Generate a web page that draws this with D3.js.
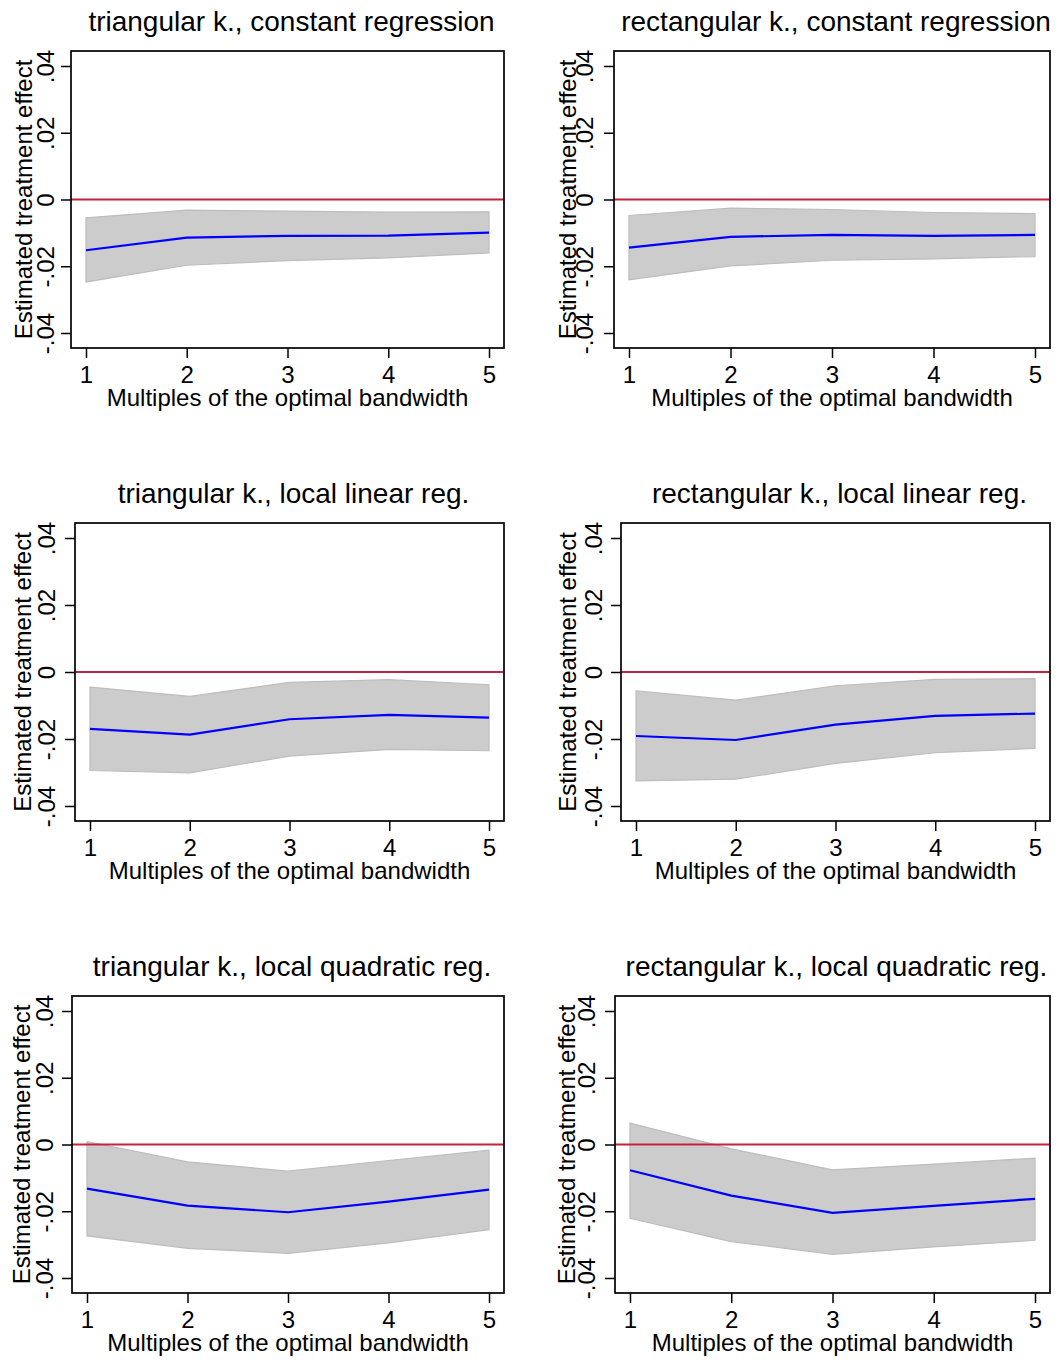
<!DOCTYPE html>
<html>
<head>
<meta charset="utf-8">
<script src="https://cdn.jsdelivr.net/npm/d3@7"></script>
<style>
  html, body { margin: 0; padding: 0; background: #ffffff; }
  svg { display: block; }
  text { font-family: "Liberation Sans", Arial, sans-serif; fill: #000; }
</style>
</head>
<body>
<svg id="chart" width="1059" height="1360"></svg>
<script>
// ---------------- data ----------------
const bandwidths = [1, 2, 3, 4, 5];
const xTickLabels = ["1", "2", "3", "4", "5"];
const yTicks = [-0.04, -0.02, 0, 0.02, 0.04];
const yTickLabels = ["-.04", "-.02", "0", ".02", ".04"];

const panelTitles = [
  "triangular k., constant regression",
  "rectangular k., constant regression",
  "triangular k., local linear reg.",
  "rectangular k., local linear reg.",
  "triangular k., local quadratic reg.",
  "rectangular k., local quadratic reg."
];
const xAxisTitle = "Multiples of the optimal bandwidth";
const yAxisTitle = "Estimated treatment effect";

// triangular kernel, constant regression
const estTriConst   = [-0.0152, -0.0114, -0.0109, -0.0108, -0.0099];
const upperTriConst = [-0.0055, -0.0032, -0.0035, -0.0038, -0.0037];
const lowerTriConst = [-0.0247, -0.0197, -0.0183, -0.0175, -0.0160];
// rectangular kernel, constant regression
const estRectConst   = [-0.0144, -0.0112, -0.0106, -0.0109, -0.0106];
const upperRectConst = [-0.0048, -0.0026, -0.0030, -0.0039, -0.0042];
const lowerRectConst = [-0.0241, -0.0199, -0.0182, -0.0178, -0.0171];
// triangular kernel, local linear
const estTriLin   = [-0.0170, -0.0187, -0.0141, -0.0128, -0.0136];
const upperTriLin = [-0.0045, -0.0073, -0.0031, -0.0023, -0.0038];
const lowerTriLin = [-0.0294, -0.0301, -0.0251, -0.0231, -0.0235];
// rectangular kernel, local linear
const estRectLin   = [-0.0191, -0.0203, -0.0157, -0.0131, -0.0124];
const upperRectLin = [-0.0056, -0.0084, -0.0041, -0.0022, -0.0020];
const lowerRectLin = [-0.0325, -0.0320, -0.0273, -0.0241, -0.0228];
// triangular kernel, local quadratic
const estTriQuad   = [-0.0132, -0.0183, -0.0203, -0.0171, -0.0135];
const upperTriQuad = [ 0.0009, -0.0052, -0.0080, -0.0048, -0.0017];
const lowerTriQuad = [-0.0274, -0.0311, -0.0326, -0.0295, -0.0255];
// rectangular kernel, local quadratic
const estRectQuad   = [-0.0077, -0.0153, -0.0205, -0.0184, -0.0163];
const upperRectQuad = [ 0.0064, -0.0013, -0.0076, -0.0059, -0.0041];
const lowerRectQuad = [-0.0221, -0.0291, -0.0329, -0.0307, -0.0287];

const panelSeries = [
  [estTriConst, upperTriConst, lowerTriConst],
  [estRectConst, upperRectConst, lowerRectConst],
  [estTriLin, upperTriLin, lowerTriLin],
  [estRectLin, upperRectLin, lowerRectLin],
  [estTriQuad, upperTriQuad, lowerTriQuad],
  [estRectQuad, upperRectQuad, lowerRectQuad]
];

// ---------------- layout ----------------
// plot box edges and y-label baselines for each panel
const layouts = [
  { L: 71,  R: 504,  T: 51,  B: 348,  tickX: 54,  titleX: 32 },
  { L: 614, R: 1050, T: 51,  B: 348,  tickX: 593, titleX: 576 },
  { L: 75,  R: 504,  T: 523, B: 821,  tickX: 55,  titleX: 31 },
  { L: 621, R: 1050, T: 523, B: 821,  tickX: 602, titleX: 576 },
  { L: 72,  R: 504,  T: 996, B: 1293, tickX: 53,  titleX: 30 },
  { L: 615, R: 1050, T: 996, B: 1293, tickX: 595, titleX: 575 }
];
const inset = 15;
const labelFont = "24px";
const titleFont = "28px";

const svg = d3.select("#chart");

panelSeries.forEach((series, i) => {
  const lay = layouts[i];
  const [est, upper, lower] = series;
  const x = d3.scaleLinear().domain([1, 5]).range([lay.L + inset, lay.R - inset]);
  const y = d3.scaleLinear().domain([-0.04, 0.04]).range([lay.B - inset, lay.T + inset]);
  const g = svg.append("g");

  const rows = bandwidths.map((b, k) => ({ b, est: est[k], hi: upper[k], lo: lower[k] }));

  // confidence band
  const area = d3.area()
    .x(d => x(d.b))
    .y0(d => y(d.lo))
    .y1(d => y(d.hi));
  g.append("path")
    .datum(rows)
    .attr("d", area)
    .attr("fill", "#cccccc")
    .attr("stroke", "#bdbdbd")
    .attr("stroke-width", 1.2);

  // zero reference line
  g.append("line")
    .attr("x1", lay.L).attr("x2", lay.R)
    .attr("y1", y(0)).attr("y2", y(0))
    .attr("stroke", "#c8203f")
    .attr("stroke-width", 2);

  // estimate line
  const line = d3.line().x(d => x(d.b)).y(d => y(d.est));
  g.append("path")
    .datum(rows)
    .attr("d", line)
    .attr("fill", "none")
    .attr("stroke", "#0000ff")
    .attr("stroke-width", 2.2);

  // box
  g.append("rect")
    .attr("x", lay.L).attr("y", lay.T)
    .attr("width", lay.R - lay.L).attr("height", lay.B - lay.T)
    .attr("fill", "none")
    .attr("stroke", "#000")
    .attr("stroke-width", 1.7);

  // y axis
  const yAxis = d3.axisLeft(y)
    .tickValues(yTicks)
    .tickFormat((d, k) => yTickLabels[k])
    .tickSize(10)
    .tickSizeOuter(0);
  const yg = g.append("g").attr("transform", `translate(${lay.L},0)`).call(yAxis);
  yg.select(".domain").remove();
  yg.selectAll(".tick line").attr("stroke", "#000").attr("stroke-width", 1.5);
  yg.selectAll(".tick text")
    .attr("x", null).attr("dy", null)
    .attr("text-anchor", "middle")
    .attr("transform", `translate(${lay.tickX - lay.L},0) rotate(-90)`)
    .style("font-size", labelFont)
    .style("font-family", "Liberation Sans, Arial, sans-serif")
    .attr("fill", "#000");

  // x axis
  const xAxis = d3.axisBottom(x)
    .tickValues(bandwidths)
    .tickFormat((d, k) => xTickLabels[k])
    .tickSize(10)
    .tickSizeOuter(0);
  const xg = g.append("g").attr("transform", `translate(0,${lay.B})`).call(xAxis);
  xg.select(".domain").remove();
  xg.selectAll(".tick line").attr("stroke", "#000").attr("stroke-width", 1.5);
  xg.selectAll(".tick text")
    .attr("y", 35).attr("dy", null)
    .style("font-size", labelFont)
    .style("font-family", "Liberation Sans, Arial, sans-serif")
    .attr("fill", "#000");

  // axis titles
  g.append("text")
    .attr("x", (lay.L + lay.R) / 2)
    .attr("y", lay.B + 58)
    .attr("text-anchor", "middle")
    .style("font-size", labelFont)
    .text(xAxisTitle);

  g.append("text")
    .attr("transform", `translate(${lay.titleX},${(lay.T + lay.B) / 2}) rotate(-90)`)
    .attr("text-anchor", "middle")
    .style("font-size", labelFont)
    .text(yAxisTitle);

  // panel title
  g.append("text")
    .attr("x", (lay.L + lay.R) / 2 + 4)
    .attr("y", lay.T - 20)
    .attr("text-anchor", "middle")
    .style("font-size", titleFont)
    .text(panelTitles[i]);
});
</script>
</body>
</html>
